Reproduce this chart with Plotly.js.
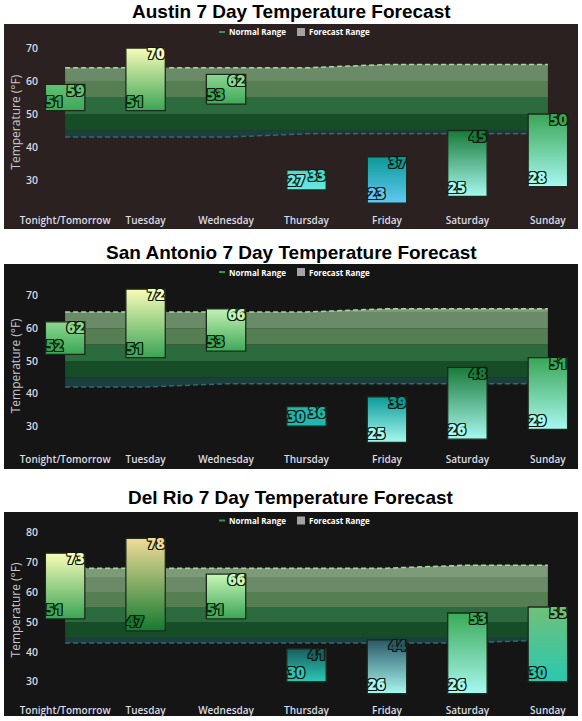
<!DOCTYPE html>
<html>
<head>
<meta charset="utf-8">
<script src="https://cdn.plot.ly/plotly-3.0.1.min.js"></script>
<style>html,body{margin:0;padding:0;background:#fff;}#chart{width:582px;height:721px;}</style>
</head>
<body>
<div id="chart"></div>
<script>
// ---------- DATA ----------
const categories = ['Tonight/Tomorrow','Tuesday','Wednesday','Thursday','Friday','Saturday','Sunday'];
const panelTitles = ['Austin 7 Day Temperature Forecast','San Antonio 7 Day Temperature Forecast','Del Rio 7 Day Temperature Forecast'];
const legendLabels = ['Normal Range','Forecast Range'];
const yAxisTitle = 'Temperature (°F)';

const austinLow      = [51, 51, 53, 27, 23, 25, 28];
const austinHigh     = [59, 70, 62, 33, 37, 45, 50];
const austinNormLow  = [43, 43, 43, 44, 44, 44, 44];
const austinNormHigh = [64, 64, 64, 64, 65, 65, 65];

const saLow      = [52, 51, 53, 30, 25, 26, 29];
const saHigh     = [62, 72, 66, 36, 39, 48, 51];
const saNormLow  = [42, 42, 43, 43, 43, 43, 43];
const saNormHigh = [65, 65, 65, 65, 66, 66, 66];

const drLow      = [51, 47, 51, 30, 26, 26, 30];
const drHigh     = [73, 78, 66, 41, 44, 53, 55];
const drNormLow  = [43, 43, 43, 43, 43, 43, 44];
const drNormHigh = [68, 68, 68, 68, 68, 69, 69];

const ticks3070 = [30, 40, 50, 60, 70];
const ticks3080 = [30, 40, 50, 60, 70, 80];

// ---------- STYLE ----------
const austinBarColors = [['#3da858','#62c274'],['#3aa555','#f8fcb8'],['#40a858','#8cd890'],['#6ee8e0','#4ad8d0'],['#62c8f2','#0a9a98'],['#a8f8f0','#187a38'],['#a8f8f0','#3aa555']];
const saBarColors     = [['#3aa555','#8cd890'],['#3aa555','#f8fcb8'],['#40a858','#c4f2b4'],['#1eb8b0','#22b4ac'],['#a8f8f0','#0a9a98'],['#a8f8f0','#1a7a3a'],['#a8f8f0','#3aa555']];
const drBarColors     = [['#3aa555','#f8fcb8'],['#157a30','#f0dc98'],['#3aa555','#c8f5b8'],['#2ac8b8','#1a5e5e'],['#a8f8f0','#2a5868'],['#a8f8f0','#3aaa58'],['#2ac8b0','#70c07a']];

const bands = [[-Infinity,45,'#1b3f3e'],[45,50,'#164c28'],[50,55,'#2b6b3d'],[55,60,'#557f52'],[60,65,'#6b8a67'],[65,70,'#7d9a79']];
const W = 582, H = 721;
const fy = px => 1 - px / H, fx = px => px / W;
const clamp = (v, a, b) => Math.min(Math.max(v, a), b);
const oc = '#0d1a0d';
const outline = [[-1,-1],[1,-1],[-1,1],[1,1],[0,1],[0,-1],[1,0],[-1,0]].map(([a,b]) => a + 'px ' + b + 'px 0 ' + oc).join(', ');
const xs = categories.map((c, i) => i);
const halfW = 0.245;

const panels = [
  {low: austinLow, high: austinHigh, nl: austinNormLow, nh: austinNormHigh, col: austinBarColors, ticks: ticks3070, range: [20, 75], top: 31.5, bottom: 213, bg: [24, 229], bgc: '#2b2121', titleY: 12, legY: 32},
  {low: saLow, high: saHigh, nl: saNormLow, nh: saNormHigh, col: saBarColors, ticks: ticks3070, range: [22, 75], top: 279.4, bottom: 452.2, bg: [264, 469], bgc: '#151515', titleY: 252, legY: 272},
  {low: drLow, high: drHigh, nl: drNormLow, nh: drNormHigh, col: drBarColors, ticks: ticks3080, range: [23, 85], top: 517.3, bottom: 702.7, bg: [512, 716], bgc: '#151515', titleY: 497, legY: 520.5}
];

const data = [];
const layout = {
  width: W, height: H, margin: {l: 0, r: 0, t: 0, b: 0},
  paper_bgcolor: '#ffffff', plot_bgcolor: 'rgba(0,0,0,0)',
  showlegend: false, shapes: [], annotations: [],
  font: {family: 'Open Sans, sans-serif'}
};

panels.forEach((p, k) => {
  const n = k + 1;
  const xa = n === 1 ? 'x' : 'x' + n, ya = n === 1 ? 'y' : 'y' + n;
  const xk = n === 1 ? 'xaxis' : 'xaxis' + n, yk = n === 1 ? 'yaxis' : 'yaxis' + n;
  layout[xk] = {
    domain: [fx(45), fx(568)], range: [-0.25, 6.25], anchor: ya,
    tickmode: 'array', tickvals: xs, ticktext: categories,
    showgrid: false, zeroline: false, showline: false, ticks: '',
    tickfont: {family: 'Open Sans', size: 10, color: '#dcdce4', weight: 600}, fixedrange: true
  };
  layout[yk] = {
    domain: [fy(p.bottom), fy(p.top)], range: p.range, anchor: xa,
    tickmode: 'array', tickvals: p.ticks,
    showgrid: false, zeroline: false, showline: false, ticks: '', ticklabelstandoff: 6,
    tickfont: {family: 'Open Sans', size: 10.5, color: '#d8d8e0', weight: 600},
    title: {text: yAxisTitle, font: {family: 'Open Sans', size: 12, color: '#c8c8c8'}, standoff: 2},
    fixedrange: true
  };
  // background panel
  layout.shapes.push({type: 'rect', xref: 'paper', yref: 'paper', x0: fx(4), x1: fx(578), y0: fy(p.bg[1]), y1: fy(p.bg[0]), fillcolor: p.bgc, line: {width: 0}, layer: 'below'});
  // title
  layout.annotations.push({xref: 'paper', yref: 'paper', x: 0.5, y: fy(p.titleY), xanchor: 'center', yanchor: 'middle', showarrow: false,
    text: '<b>' + panelTitles[k] + '</b>', font: {family: 'Liberation Sans, Arial, sans-serif', size: 19, color: '#000'}});
  // legend
  layout.shapes.push({type: 'line', xref: 'paper', yref: 'paper', x0: fx(219), x1: fx(225), y0: fy(p.legY), y1: fy(p.legY), line: {color: '#2f9a4c', width: 2}});
  layout.shapes.push({type: 'rect', xref: 'paper', yref: 'paper', x0: fx(297), x1: fx(305), y0: fy(p.legY + 4), y1: fy(p.legY - 4), fillcolor: '#a3a3a3', line: {width: 0}});
  layout.annotations.push({xref: 'paper', yref: 'paper', x: fx(227), y: fy(p.legY), xanchor: 'left', yanchor: 'middle', showarrow: false,
    text: legendLabels[0], font: {family: 'Open Sans', size: 8, color: '#ffffff', weight: 700}});
  layout.annotations.push({xref: 'paper', yref: 'paper', x: fx(307), y: fy(p.legY), xanchor: 'left', yanchor: 'middle', showarrow: false,
    text: legendLabels[1], font: {family: 'Open Sans', size: 8, color: '#ffffff', weight: 700}});

  // normal range bands
  bands.forEach(([b0, b1, c]) => {
    const lo = p.nl.map(v => clamp(v, b0 === -Infinity ? v : b0, b1));
    const hi = p.nh.map(v => clamp(v, b0 === -Infinity ? -Infinity : b0, b1));
    if (hi.every((v, i) => v <= lo[i])) return;
    data.push({x: xs, y: lo, xaxis: xa, yaxis: ya, type: 'scatter', mode: 'lines', line: {width: 0}, hoverinfo: 'skip'});
    data.push({x: xs, y: hi, xaxis: xa, yaxis: ya, type: 'scatter', mode: 'lines', line: {width: 0}, fill: 'tonexty', fillcolor: c, hoverinfo: 'skip'});
  });
  data.push({x: xs, y: p.nh, xaxis: xa, yaxis: ya, type: 'scatter', mode: 'lines', line: {color: '#a8d8a0', width: 1.5, dash: '5px,3px'}, hoverinfo: 'skip'});
  data.push({x: xs, y: p.nl, xaxis: xa, yaxis: ya, type: 'scatter', mode: 'lines', line: {color: '#2f6c6c', width: 1.5, dash: '5px,3px'}, hoverinfo: 'skip'});

  // forecast bars (floating, gradient filled)
  xs.forEach(i => {
    const lo = p.low[i], hi = p.high[i];
    data.push({
      x: [i - halfW, i + halfW, i + halfW, i - halfW, i - halfW],
      y: [lo, lo, hi, hi, lo],
      xaxis: xa, yaxis: ya, type: 'scatter', mode: 'lines', fill: 'toself',
      line: {color: '#1b2b1b', width: 1.3},
      fillgradient: {type: 'vertical', colorscale: [[0, p.col[i][0]], [1, p.col[i][1]]]},
      hoverinfo: 'skip'
    });
  });
  // value labels
  data.push({
    x: xs.map(i => i - halfW + 0.005), y: p.low, text: p.low.map(String), xaxis: xa, yaxis: ya,
    type: 'scatter', mode: 'text', textposition: 'top right', cliponaxis: false,
    textfont: {family: 'Open Sans', size: 15, weight: 800, color: p.col.map(c => c[0]), shadow: outline}, hoverinfo: 'skip'
  });
  data.push({
    x: xs.map(i => i + halfW - 0.005), y: p.high, text: p.high.map(String), xaxis: xa, yaxis: ya,
    type: 'scatter', mode: 'text', textposition: 'bottom left', cliponaxis: false,
    textfont: {family: 'Open Sans', size: 15, weight: 800, color: p.col.map(c => c[1]), shadow: outline}, hoverinfo: 'skip'
  });
});

Plotly.newPlot('chart', data, layout, {staticPlot: true, displayModeBar: false});
</script>
</body>
</html>
